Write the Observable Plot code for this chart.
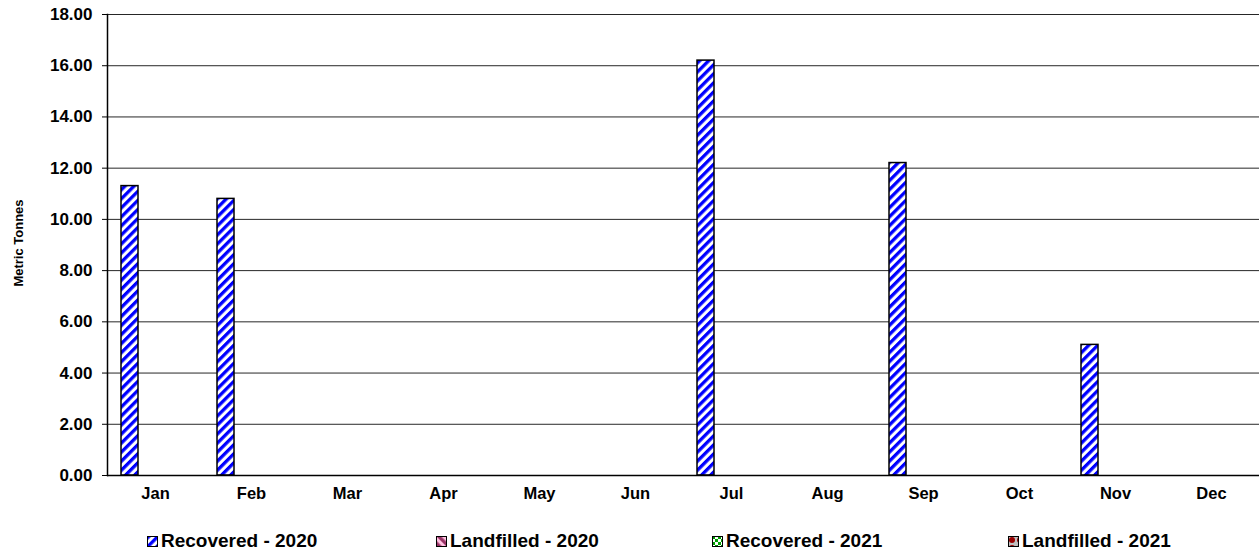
<!DOCTYPE html>
<html>
<head>
<meta charset="utf-8">
<script src="https://cdn.jsdelivr.net/npm/d3@7"></script>
<script src="https://cdn.jsdelivr.net/npm/@observablehq/plot@0.6"></script>
<style>
  body { margin: 0; background: #fff; font-family: "Liberation Sans", Arial, sans-serif; }
  #chart { width: 1260px; }
  .legend { position: relative; width: 1260px; height: 34px; font-weight: bold; font-size: 19px; color: #000; }
  .legend .item { position: absolute; top: 10px; display: flex; align-items: center; white-space: nowrap; }
  .legend svg { margin-right: 3px; }
</style>
</head>
<body>
<div id="chart"></div>
<script>
const months = ["Jan","Feb","Mar","Apr","May","Jun","Jul","Aug","Sep","Oct","Nov","Dec"];
const series = ["Recovered - 2020","Landfilled - 2020","Recovered - 2021","Landfilled - 2021"];
const recovered2020 = [11.3, 10.8, 0, 0, 0, 0, 16.2, 0, 12.2, 0, 5.1, 0];
const landfilled2020 = [0, 0, 0, 0, 0, 0, 0, 0, 0, 0, 0, 0];
const recovered2021 = [0, 0, 0, 0, 0, 0, 0, 0, 0, 0, 0, 0];
const landfilled2021 = [0, 0, 0, 0, 0, 0, 0, 0, 0, 0, 0, 0];
const yTicks = [0, 2, 4, 6, 8, 10, 12, 14, 16, 18];

const seriesValues = [recovered2020, landfilled2020, recovered2021, landfilled2021];
const data = [];
months.forEach((m, i) => {
  series.forEach((s, j) => data.push({month: m, series: s, value: seriesValues[j][i]}));
});

const patternIds = ["pRec20", "pLand20", "pRec21", "pLand21"];
const defsMarkup = `
  <pattern id="pRec20" patternUnits="userSpaceOnUse" width="6.4" height="6.4" patternTransform="rotate(45)">
    <rect width="6.4" height="6.4" fill="#fff"/><rect width="3.3" height="6.4" fill="#0000ff"/>
  </pattern>
  <pattern id="pLand20" patternUnits="userSpaceOnUse" width="6.4" height="6.4" patternTransform="rotate(-45)">
    <rect width="6.4" height="6.4" fill="#ffc0e0"/><rect width="3.3" height="6.4" fill="#993366"/>
  </pattern>
  <pattern id="pRec21" patternUnits="userSpaceOnUse" width="6" height="6">
    <rect width="6" height="6" fill="#fff"/><rect width="3" height="3" fill="#00a000"/><rect x="3" y="3" width="3" height="3" fill="#00a000"/>
  </pattern>
  <pattern id="pLand21" patternUnits="userSpaceOnUse" width="8" height="8">
    <rect width="8" height="8" fill="#c0c0c0"/><circle cx="4" cy="4" r="3" fill="#990000"/>
  </pattern>`;

const chart = Plot.plot({
  width: 1260,
  height: 520,
  marginLeft: 106,
  marginRight: 0,
  marginTop: 14,
  marginBottom: 45,
  style: {fontFamily: "'Liberation Sans', Arial, sans-serif", fontWeight: "bold", fontSize: "17px", color: "#000", background: "#fff"},
  fx: {domain: months, padding: 0, label: null},
  x: {domain: series, paddingInner: 0, paddingOuter: 0.667, axis: null},
  y: {domain: [0, 18], label: null},
  color: {domain: series, range: patternIds.map(id => `url(#${id})`)},
  marks: [
    Plot.gridY(yTicks, {stroke: "#000", strokeOpacity: 0.85, strokeWidth: 1}),
    Plot.axisFx({anchor: "bottom", tickSize: 0, tickPadding: 12, fontSize: 16.5, fontWeight: "bold", label: null}),
    Plot.axisY(yTicks, {tickSize: 5, tickPadding: 10, tickFormat: d3.format(".2f"), fontSize: 17, fontWeight: "bold", label: null}),
    Plot.barY(data, {fx: "month", x: "series", y: "value", fill: "series", stroke: "#000", strokeWidth: 1.5}),
    Plot.ruleY([0], {stroke: "#000", strokeWidth: 1.5}),
    Plot.frame({anchor: "left", facetAnchor: "left", stroke: "#000", strokeWidth: 1.5})
  ]
});

const defs = document.createElementNS("http://www.w3.org/2000/svg", "defs");
defs.innerHTML = defsMarkup;
chart.insertBefore(defs, chart.firstChild);

// Y axis title
const title = document.createElementNS("http://www.w3.org/2000/svg", "text");
title.setAttribute("transform", "translate(23,243) rotate(-90)");
title.setAttribute("text-anchor", "middle");
title.setAttribute("font-size", "13");
title.setAttribute("font-weight", "bold");
title.setAttribute("fill", "#000");
title.textContent = "Metric Tonnes";
chart.appendChild(title);

document.getElementById("chart").appendChild(chart);

// Legend
const legend = document.createElement("div");
legend.className = "legend";
const legendLeft = [147, 436, 712, 1008];
series.forEach((s, i) => {
  const item = document.createElement("div");
  item.className = "item";
  item.style.left = legendLeft[i] + "px";
  item.innerHTML = `<svg width="11" height="11"><defs>${defsMarkup.replace(/id="(\w+)"/g, 'id="lg$1"')}</defs><rect x="0.5" y="0.5" width="10" height="10" fill="url(#lg${patternIds[i]})" stroke="#000" stroke-width="1"/></svg><span>${s}</span>`;
  legend.appendChild(item);
});
document.body.appendChild(legend);
</script>
</body>
</html>
